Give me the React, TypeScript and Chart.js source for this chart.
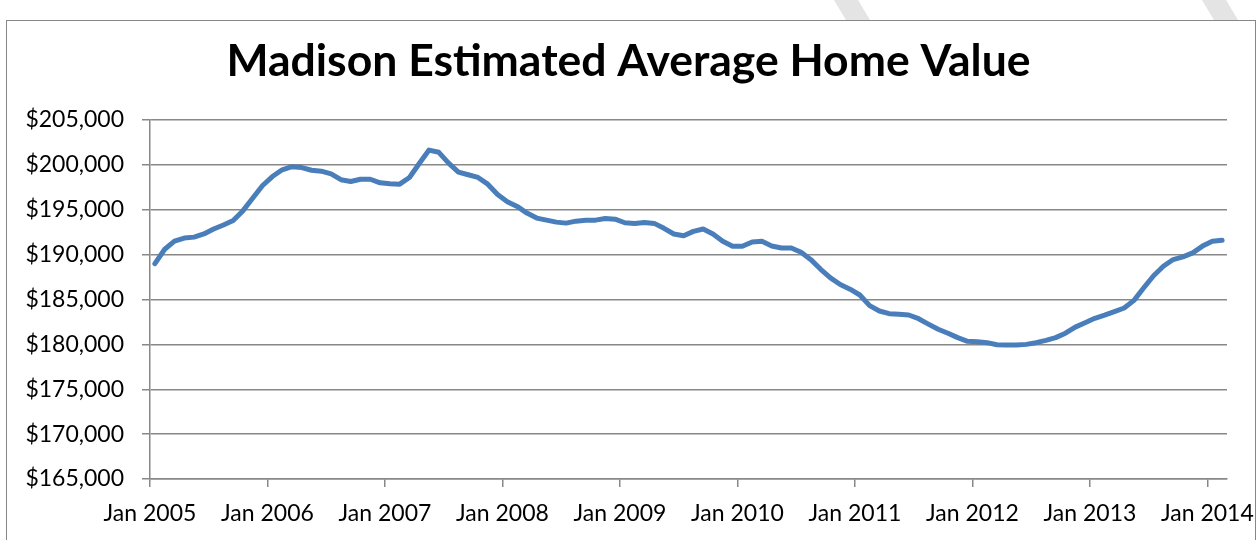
import React, { useEffect, useRef } from "react";
import { Chart, registerables } from "chart.js";

Chart.register(...registerables);

const titleText = "Madison Estimated Average Home Value";

const tickLabels = [
  "Jan 2005", "Jan 2006", "Jan 2007", "Jan 2008", "Jan 2009",
  "Jan 2010", "Jan 2011", "Jan 2012", "Jan 2013", "Jan 2014",
];

// Monthly values, Jan 2005 .. Feb 2014
const values2005 = [189000, 190600, 191500, 191850, 191950, 192300, 192850, 193300, 193800, 194900, 196300, 197700];
const values2006 = [198700, 199450, 199800, 199700, 199400, 199300, 199000, 198350, 198150, 198400, 198400, 198000];
const values2007 = [197900, 197850, 198600, 200150, 201650, 201400, 200200, 199200, 198900, 198600, 197850, 196700];
const values2008 = [195900, 195370, 194630, 194070, 193840, 193620, 193510, 193730, 193840, 193840, 194030, 193950];
const values2009 = [193550, 193480, 193590, 193480, 192930, 192300, 192110, 192590, 192850, 192300, 191480, 190930];
const values2010 = [190930, 191410, 191480, 190960, 190740, 190740, 190260, 189440, 188370, 187410, 186670, 186150];
const values2011 = [185500, 184320, 183720, 183420, 183350, 183270, 182860, 182260, 181690, 181240, 180750, 180340];
const values2012 = [180300, 180190, 179960, 179920, 179920, 180000, 180190, 180450, 180750, 181240, 181920, 182400];
const values2013 = [182900, 183250, 183650, 184050, 184900, 186300, 187650, 188700, 189450, 189750, 190200, 190950];
const values2014 = [191500, 191600];

const monthlyValues = [
  ...values2005, ...values2006, ...values2007, ...values2008, ...values2009,
  ...values2010, ...values2011, ...values2012, ...values2013, ...values2014,
];

const yMin = 165000;
const yMax = 205000;
const yStep = 5000;
const xMonths = 110;

const W = 1257;
const H = 540;

const frame = {
  id: "frame",
  beforeDraw(chart: any) {
    const ctx = chart.ctx;
    ctx.save();
    ctx.fillStyle = "#ffffff";
    ctx.fillRect(0, 0, W, H);
    // faint diagonal watermark stripes above the chart frame
    ctx.fillStyle = "#e4e4e4";
    ctx.beginPath();
    ctx.moveTo(834, 0);
    ctx.lineTo(858, 0);
    ctx.lineTo(870, 20);
    ctx.lineTo(846, 20);
    ctx.closePath();
    ctx.fill();
    ctx.beginPath();
    ctx.moveTo(1202, 0);
    ctx.lineTo(1226, 0);
    ctx.lineTo(1238, 20);
    ctx.lineTo(1214, 20);
    ctx.closePath();
    ctx.fill();
    ctx.fillStyle = "#ffffff";
    ctx.fillRect(7, 21, 1248, 530);
    ctx.strokeStyle = "#878787";
    ctx.lineWidth = 1;
    ctx.strokeRect(6.5, 20.5, 1249, 530);
    ctx.restore();
  },
};

export default function App() {
  const ref = useRef<HTMLCanvasElement | null>(null);

  useEffect(() => {
    if (!ref.current) return;
    const points = monthlyValues.map((v, i) => ({ x: i + 0.5, y: v }));
    const chart = new Chart(ref.current, {
      type: "line",
      data: {
        datasets: [
          {
            data: points,
            borderColor: "#4a7ebb",
            borderWidth: 5,
            borderCapStyle: "round",
            borderJoinStyle: "round",
            pointRadius: 0,
            tension: 0,
            fill: false,
          },
        ],
      },
      options: {
        responsive: false,
        animation: false,
        layout: { padding: 0 },
        plugins: {
          legend: { display: false },
          tooltip: { enabled: false },
          title: {
            display: true,
            text: titleText,
            color: "#000000",
            font: { family: "Lato", size: 44.5, weight: "bold", lineHeight: 1.2 },
            padding: { top: 35, bottom: 31.6 },
          },
        },
        scales: {
          x: {
            type: "linear",
            min: 0,
            max: xMonths,
            afterFit: (s: any) => {
              s.height = H - 479;
              s.paddingLeft = 0;
              s.paddingRight = W - 1227;
            },
            border: { display: true, color: "#888888", width: 1.5 },
            grid: {
              drawOnChartArea: false,
              drawTicks: true,
              tickLength: 8,
              color: "#888888",
              lineWidth: 1.5,
            },
            ticks: {
              stepSize: 12,
              includeBounds: false,
              autoSkip: false,
              maxRotation: 0,
              padding: 13,
              color: "#000000",
              font: { family: "Lato", size: 23 },
              callback: (v: any) => tickLabels[Math.round(Number(v) / 12)] ?? "",
            },
          },
          y: {
            min: yMin,
            max: yMax,
            afterFit: (s: any) => {
              s.width = 150;
              s.paddingTop = 0;
              s.paddingBottom = 0;
            },
            border: { display: true, color: "#888888", width: 1.5 },
            grid: {
              color: "#888888",
              lineWidth: 1.5,
              tickLength: 8,
            },
            ticks: {
              stepSize: yStep,
              padding: 18,
              color: "#000000",
              font: { family: "Lato", size: 23 },
              callback: (v: any) => "$" + Number(v).toLocaleString("en-US"),
            },
          },
        },
      },
      plugins: [frame],
    });
    return () => chart.destroy();
  }, []);

  return (
    <div style={{ position: "absolute", left: 0, top: 0, width: W, height: H }}>
      <canvas ref={ref} width={W} height={H} style={{ display: "block", width: W, height: H }} />
    </div>
  );
}
